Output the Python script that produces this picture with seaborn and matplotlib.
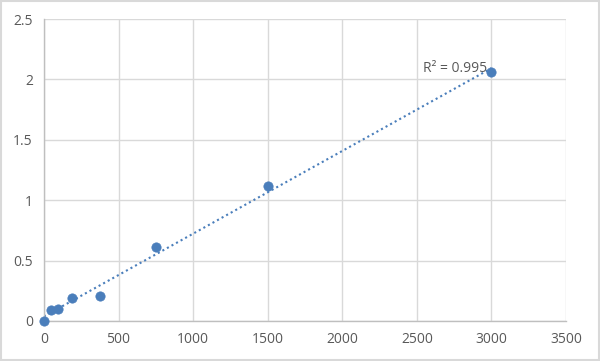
import matplotlib
matplotlib.use("Agg")
import matplotlib.pyplot as plt
import seaborn as sns
import numpy as np
import pandas as pd

conc = [0, 46.875, 93.75, 187.5, 375, 750, 1500, 3000]
od = [0.0, 0.09, 0.10, 0.19, 0.21, 0.61, 1.12, 2.06]
x_ticks = [0, 500, 1000, 1500, 2000, 2500, 3000, 3500]
y_ticks = [0, 0.5, 1, 1.5, 2, 2.5]
y_labels = ["0", "0.5", "1", "1.5", "2", "2.5"]
r2_label = "R² = 0.995"

df = pd.DataFrame({"conc": conc, "od": od})

sns.set_theme(style="white")
plt.rcParams['font.family'] = ['Open Sans', 'DejaVu Sans']

fig = plt.figure(figsize=(6, 3.61), dpi=100)
ax = fig.add_axes([0.0733, 0.111, 0.8700, 0.836])

blue = "#4A7EBB"
sns.regplot(data=df, x="conc", y="od", ax=ax, ci=None, truncate=True,
            scatter=False,
            line_kws=dict(color=blue, linestyle=(0, (1, 1.5)), linewidth=1.5))
sns.scatterplot(data=df, x="conc", y="od", ax=ax, color=blue, s=45,
                edgecolor=blue, linewidth=0.5, zorder=5, clip_on=False)

ax.set_xlim(0, 3500)
ax.set_ylim(0, 2.5)
ax.set_xticks(x_ticks)
ax.set_yticks(y_ticks)
ax.set_yticklabels(y_labels)
ax.set_xlabel("")
ax.set_ylabel("")
ax.grid(True, color="#D9D9D9", linewidth=1)
ax.set_axisbelow(True)
for s in ["top", "right"]:
    ax.spines[s].set_visible(False)
for s in ["left", "bottom"]:
    ax.spines[s].set_color("#BFBFBF")
    ax.spines[s].set_linewidth(1)
ax.tick_params(axis="both", colors="#595959", labelsize=10, length=0, pad=8)
for lbl in ax.get_xticklabels() + ax.get_yticklabels():
    lbl.set_color("#595959")

ax.text(2970, 2.095, r2_label, ha="right", va="center", color="#595959", fontsize=10)

fig.patches.append(plt.Rectangle((0.002, 0.003), 0.996, 0.994, transform=fig.transFigure,
                                 fill=False, edgecolor="#D9D9D9", linewidth=1.5))
fig.savefig("out.png", dpi=100)
